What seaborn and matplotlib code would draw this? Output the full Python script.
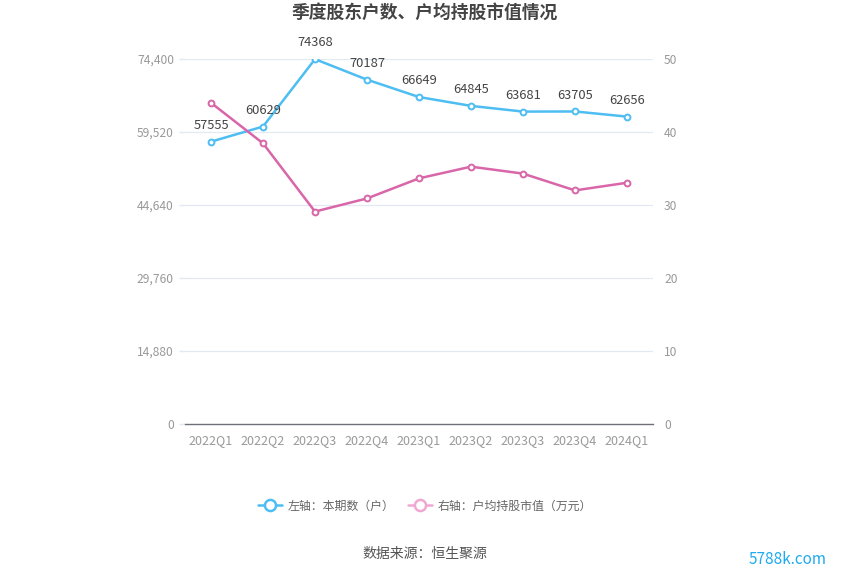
import matplotlib
matplotlib.use("Agg")
import matplotlib.pyplot as plt
import seaborn as sns
import pandas as pd
from matplotlib.lines import Line2D

quarters = ["2022Q1", "2022Q2", "2022Q3", "2022Q4", "2023Q1", "2023Q2", "2023Q3", "2023Q4", "2024Q1"]
holders = [57555, 60629, 74368, 70187, 66649, 64845, 63681, 63705, 62656]
avg_value = [44.0, 38.45, 29.1, 30.9, 33.65, 35.25, 34.3, 32.0, 33.05]
left_ticks = [0, 14880, 29760, 44640, 59520, 74400]
right_ticks = [0, 10, 20, 30, 40, 50]

sns.set_theme(style="white")
plt.rcParams['font.family'] = ['Noto Sans CJK SC', 'DejaVu Sans']

df = pd.DataFrame({"q": quarters, "holders": holders, "avg": avg_value})
df["x"] = range(len(quarters))

BLUE = "#4dbdf2"
PINK = "#d866a8"
GRID = "#e3e8f3"
TXT = "#999999"

fig = plt.figure(figsize=(8.5, 5.75), dpi=100)
ax = fig.add_axes([185/850, 1-424/575, 468/850, 365/575])
ax2 = ax.twinx()

sns.lineplot(data=df, x="x", y="holders", ax=ax, color=BLUE, lw=1.8,
             marker="o", markersize=4.2, markerfacecolor="white",
             markeredgecolor=BLUE, markeredgewidth=1.4, zorder=3)
sns.lineplot(data=df, x="x", y="avg", ax=ax2, color=PINK, lw=1.8,
             marker="o", markersize=4.2, markerfacecolor="white",
             markeredgecolor=PINK, markeredgewidth=1.4, zorder=3)

ax.set_xlim(-0.5, len(quarters)-0.5)
ax.set_ylim(0, 74400)
ax2.set_ylim(0, 50)
ax.set_yticks(left_ticks)
ax.set_yticklabels([f"{v:,}" for v in left_ticks])
ax2.set_yticks(right_ticks)
ax2.set_yticklabels([str(v) for v in right_ticks])
ax.set_xticks(range(len(quarters)))
ax.set_xticklabels(quarters)
ax.set_xlabel("")
ax.set_ylabel("")
ax2.set_ylabel("")

for y in left_ticks[1:]:
    ax.axhline(y, color=GRID, lw=0.9, zorder=0)

for a in (ax, ax2):
    for s in ["top", "left", "right", "bottom"]:
        a.spines[s].set_visible(False)
ax.spines["bottom"].set_visible(True)
ax.spines["bottom"].set_color("#6e7079")
ax.spines["bottom"].set_linewidth(1)

ax.tick_params(axis="x", colors="#6e7079", length=4, width=1, labelcolor=TXT, labelsize=9, pad=3)
ax.tick_params(axis="y", colors=GRID, length=4, width=1, labelcolor=TXT, labelsize=8.7, pad=4, left=True)
ax2.tick_params(axis="y", length=0, labelcolor=TXT, labelsize=8.7, pad=8)

for xi, v in zip(df["x"], holders):
    ax.annotate(str(v), (xi, v), xytext=(0, 7), textcoords="offset points",
                ha="center", va="bottom", fontsize=9.3, color="#444444")

fig.text(0.5, 1-13/575, "季度股东户数、户均持股市值情况", ha="center", va="center",
         fontsize=12.8, fontweight="bold", color="#444444")

handles = [
    Line2D([0], [0], color=BLUE, lw=1.8, marker="o", markersize=8,
           markerfacecolor="white", markeredgecolor=BLUE, markeredgewidth=1.8),
    Line2D([0], [0], color="#f0a8d2", lw=1.8, marker="o", markersize=8,
           markerfacecolor="white", markeredgecolor="#f0a8d2", markeredgewidth=1.8),
]
leg = fig.legend(handles, ["左轴：本期数（户）", "右轴：户均持股市值（万元）"],
                 loc="center", bbox_to_anchor=(0.5, 1-506/575), ncol=2, frameon=False,
                 fontsize=8.6, handlelength=2.0, columnspacing=1.1, handletextpad=0.5)
for t in leg.get_texts():
    t.set_color("#666666")

fig.text(0.5, 1-554/575, "数据来源：恒生聚源", ha="center", va="center", fontsize=10, color="#555555")
fig.text(788/850, 1-560/575, "5788k.com", ha="center", va="center", fontsize=11, color="#1eaaf1")

fig.savefig("out.png", dpi=100, facecolor="white")
